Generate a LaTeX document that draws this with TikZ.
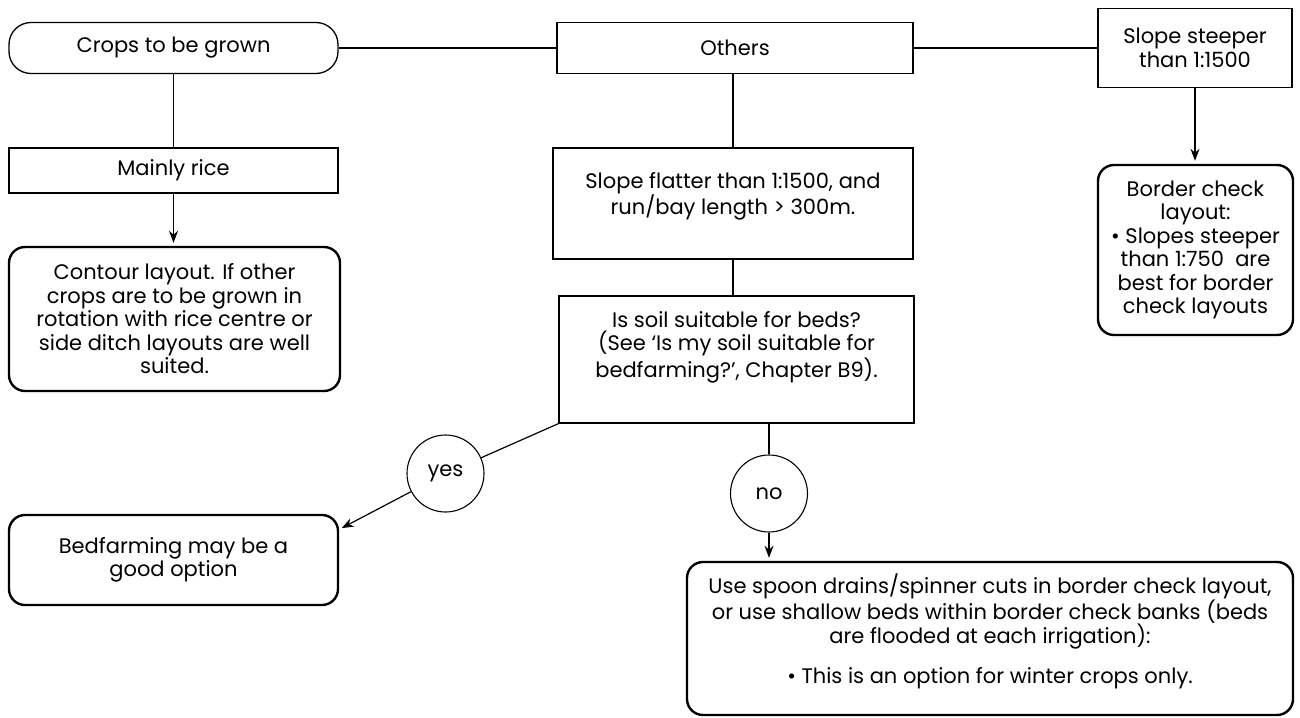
\documentclass[tikz,border=0pt]{standalone}
\usepackage{fontspec}
\setmainfont{Poppins}
\usetikzlibrary{arrows.meta}

\begin{document}
\begin{tikzpicture}[x=1pt,y=-1pt,
   every node/.style={font=\fontsize{21}{23.5}\selectfont, align=center},
   question/.style={draw, line width=1.3pt, inner sep=0pt},
   outcome/.style={draw, line width=2.4pt, rounded corners=16pt, inner sep=0pt},
   answer/.style={draw, circle, line width=1.1pt, minimum size=77pt, inner sep=0pt},
   link/.style={line width=1.2pt},
   flow/.style={line width=1.2pt, -{Stealth[length=12pt,width=9pt]}, shorten >=3pt}]
   \useasboundingbox (0,0) rectangle (1300,717);

   % top row
   \node[question, rounded corners=22pt, minimum width=329pt, minimum height=51pt]
      (crops) at (173.5,48) {Crops to be grown};
   \node[question, minimum width=356pt, minimum height=51pt]
      (others) at (735,48) {Others};
   \node[question, minimum width=194pt, minimum height=79pt]
      (steeper) at (1195,48) {Slope steeper\\than 1:1500};

   % left column
   \node[question, minimum width=329pt, minimum height=45pt]
      (rice) at (173.5,170.5) {Mainly rice};
   \node[outcome, minimum width=331pt, minimum height=144pt]
      (contour) at (174.5,319) {Contour layout. If other\\crops are to be grown in\\rotation with rice centre or\\side ditch layouts are well\\suited.};
   \node[outcome, minimum width=329pt, minimum height=90pt]
      (bedfarm) at (173.5,560) {Bedfarming may be a\\good option};

   % middle column
   \node[question, minimum width=360pt, minimum height=111pt]
      (flatter) at (733,203.5) {Slope flatter than 1:1500, and\\run/bay length > 300m.\\[-10pt]\strut};
   \node[question, minimum width=355pt, minimum height=127pt]
      (soil) at (736.5,359.5) {Is soil suitable for beds?\\(See ‘Is my soil suitable for\\bedfarming?’, Chapter B9).\\ \strut};
   \node[answer] (yes) at (445.5,473.5) {yes};
   \node[answer] (no) at (769,493.5) {no};
   \node[outcome, minimum width=606pt, minimum height=153pt]
      (drains) at (990,638.5) {Use spoon drains/spinner cuts in border check layout,\\or use shallow beds within border check banks (beds\\are flooded at each irrigation):\\[16pt]• This is an option for winter crops only.\\[-10pt]\strut};

   % right column
   \node[outcome, minimum width=195pt, minimum height=170pt]
      (border) at (1195.5,250) {Border check\\layout:\\• Slopes steeper\\than 1:750~ are\\best for border\\check layouts};

   \coordinate (bedtip) at (339,529.5);

   % connectors
   \draw[link] (crops) -- (others);
   \draw[link] (others) -- (steeper);
   \draw[link] (crops.south) -- (rice.north);
   \draw[flow] (rice.south) -- (rice.south |- contour.north);
   \draw[link] (flatter.north) -- (flatter.north |- others.south);
   \draw[link] (flatter.south) -- (flatter.south |- soil.north);
   \draw[flow] (steeper.south) -- (steeper.south |- border.north);
   \draw[link] (soil.south west) -- (yes);
   \draw[flow] (yes) -- (bedtip);
   \draw[link] (no.north) -- (no.north |- soil.south);
   \draw[flow] (no.south) -- (no.south |- drains.north);
\end{tikzpicture}
\end{document}
